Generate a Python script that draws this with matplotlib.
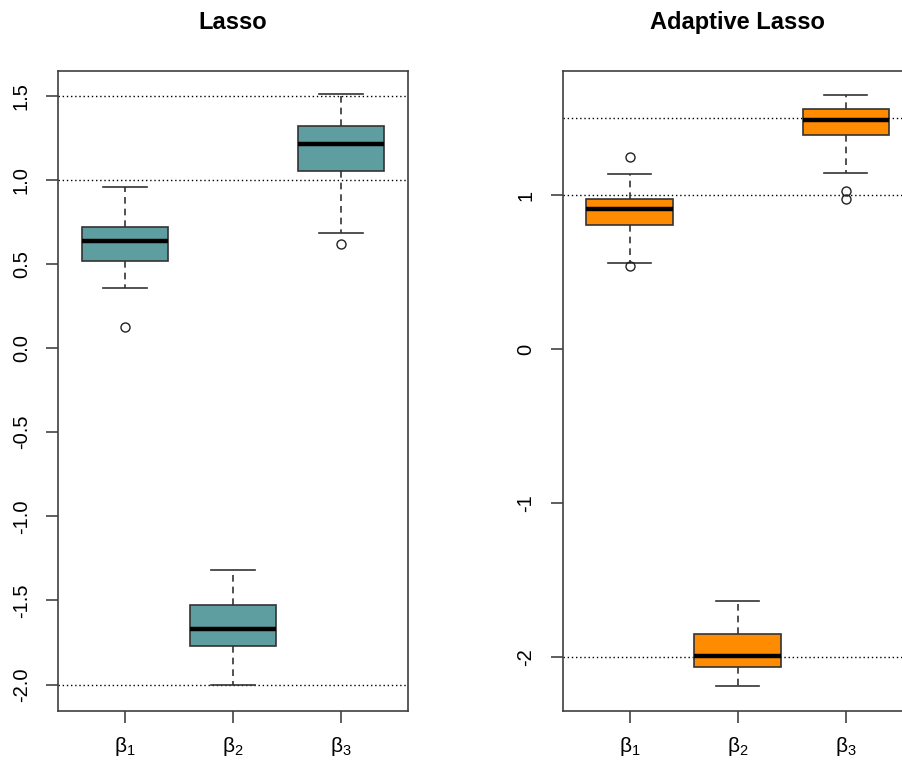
import matplotlib
matplotlib.use("Agg")
import matplotlib.pyplot as plt

plt.rcParams["font.family"] = ["Liberation Sans", "DejaVu Sans"]
plt.rcParams["axes.unicode_minus"] = False
plt.rcParams["mathtext.fontset"] = "custom"
plt.rcParams["mathtext.rm"] = "Liberation Sans"
plt.rcParams["mathtext.it"] = "Liberation Sans"

# coefficient labels
labels = [r"$\beta_1$", r"$\beta_2$", r"$\beta_3$"]
true_beta = [1.5, 1.0, -2.0]

# Lasso summary
lasso_q1 = [0.517, -1.771, 1.051]
lasso_med = [0.634, -1.668, 1.213]
lasso_q3 = [0.719, -1.525, 1.320]
lasso_lo = [0.355, -2.000, 0.687]
lasso_hi = [0.958, -1.316, 1.508]
lasso_out = [[0.123], [], [0.620]]

# adaptive lasso summary
alasso_q1 = [0.807, -2.061, 1.390]
alasso_med = [0.907, -1.993, 1.485]
alasso_q3 = [0.976, -1.847, 1.558]
alasso_lo = [0.560, -2.186, 1.145]
alasso_hi = [1.136, -1.636, 1.651]
alasso_out = [[1.247, 0.537], [], [1.024, 0.972]]

lasso_yticks = [-2.0, -1.5, -1.0, -0.5, 0.0, 0.5, 1.0, 1.5]
lasso_yticklabels = ["-2.0", "-1.5", "-1.0", "-0.5", "0.0", "0.5", "1.0", "1.5"]
alasso_yticks = [-2, -1, 0, 1]
alasso_yticklabels = ["-2", "-1", "0", "1"]


def make_stats(q1, med, q3, lo, hi, out):
    stats = []
    for i in range(len(q1)):
        stats.append(dict(q1=q1[i], med=med[i], q3=q3[i], whislo=lo[i],
                          whishi=hi[i], fliers=out[i]))
    return stats


def draw_panel(ax, stats, color, title, yticks, yticklabels, ylim):
    ax.bxp(stats, positions=[1, 2, 3], widths=0.8, capwidths=0.4,
           patch_artist=True,
           boxprops=dict(facecolor=color, edgecolor="#333333", linewidth=1.2),
           medianprops=dict(color="black", linewidth=3.2),
           whiskerprops=dict(color="#333333", linewidth=1.2, linestyle=(0, (4, 3))),
           capprops=dict(color="#333333", linewidth=1.2),
           flierprops=dict(marker="o", markerfacecolor="none",
                           markeredgecolor="#222222", markersize=6.5,
                           markeredgewidth=1.0))
    for b in true_beta:
        ax.axhline(b, color="black", linewidth=1.0, linestyle=(0, (1, 2)), zorder=0)
    ax.set_xlim(0.38, 3.62)
    ax.set_ylim(*ylim)
    ax.set_xticks([1, 2, 3])
    ax.set_xticklabels(labels, fontsize=15)
    ax.set_yticks(yticks)
    ax.set_yticklabels(yticklabels, fontsize=14.5, rotation=90, va="center")
    ax.tick_params(axis="both", direction="out", length=8.6, width=1.1,
                   color="#333333")
    ax.tick_params(axis="y", pad=11)
    ax.tick_params(axis="x", pad=9)
    for s in ax.spines.values():
        s.set_color("#404040")
        s.set_linewidth(1.2)
    ax.set_title(title, fontsize=17, fontweight="bold", pad=30)


fig = plt.figure(figsize=(9.03, 7.6), dpi=100)
ax1 = fig.add_axes([58 / 903, 49 / 760, 350 / 903, 640 / 760])
ax2 = fig.add_axes([562.7 / 903, 49 / 760, 350 / 903, 640 / 760])

draw_panel(ax1, make_stats(lasso_q1, lasso_med, lasso_q3, lasso_lo, lasso_hi, lasso_out),
           "cadetblue", "Lasso", lasso_yticks, lasso_yticklabels, (-2.157, 1.647))
draw_panel(ax2, make_stats(alasso_q1, alasso_med, alasso_q3, alasso_lo, alasso_hi, alasso_out),
           "darkorange", "Adaptive Lasso", alasso_yticks, alasso_yticklabels, (-2.349, 1.805))

fig.savefig("out.png", dpi=100)
